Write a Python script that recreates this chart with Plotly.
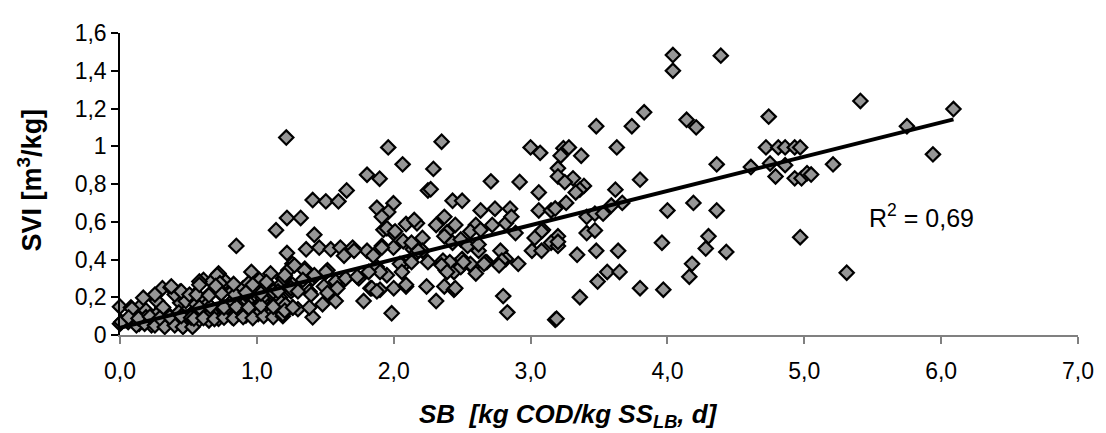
import plotly.graph_objects as go

# ---- data ----
# dense low-load cluster
sb_a = [0.00, 0.00, 0.08, 0.14, 0.19, 0.25, 0.31, 0.37, 0.44, 0.55, 0.61, 0.67, 0.72, 0.77,
        0.31, 0.44, 0.50, 0.63, 0.73, 0.82, 0.90, 0.96, 1.02, 1.10, 0.96, 0.99, 0.92, 0.82, 0.72, 1.08, 1.19, 1.26, 1.17, 1.25,
        0.06, 0.14, 0.23, 0.31, 0.39, 0.47, 0.55, 0.65, 0.72, 0.82, 0.92, 1.01, 1.11,
        0.10, 0.19, 0.27, 0.36, 0.43, 0.52, 0.60, 0.67, 0.77, 0.87, 0.93, 1.04, 1.18,
        0.17, 0.27, 0.40, 0.48, 0.58, 0.65, 0.82, 0.92, 1.04, 1.11, 1.18, 1.25,
        0.85, 1.14, 1.22, 1.22, 1.26, 0.94, 0.71, 0.73, 1.23, 1.19, 1.215]
svi_a = [0.15, 0.06, 0.146, 0.146, 0.13, 0.206, 0.248, 0.252, 0.231, 0.214, 0.292, 0.283, 0.326, 0.283,
         0.146, 0.171, 0.197, 0.171, 0.223, 0.231, 0.248, 0.334, 0.292, 0.326, 0.231, 0.137, 0.137, 0.137, 0.12, 0.154, 0.12, 0.146, 0.197, 0.231,
         0.069, 0.06, 0.051, 0.06, 0.069, 0.051, 0.06, 0.077, 0.086, 0.094, 0.103, 0.111, 0.12,
         0.103, 0.094, 0.111, 0.103, 0.12, 0.111, 0.129, 0.12, 0.137, 0.129, 0.18, 0.18, 0.171,
         0.197, 0.18, 0.214, 0.18, 0.197, 0.214, 0.18, 0.214, 0.197, 0.223, 0.257, 0.274,
         0.472, 0.555, 0.62, 0.434, 0.377, 0.274, 0.317, 0.274, 0.343, 0.30, 1.046]

sb_b = [0.01, 0.087, 0.255, 0.315, 0.375, 0.448, 0.508, 0.556, 0.58,
        0.12, 0.18, 0.255, 0.327, 0.40, 0.46, 0.53,
        0.063, 0.135, 0.219, 0.291, 0.363, 0.448, 0.52,
        0.54, 0.61, 0.69, 0.76, 0.83, 0.90, 0.97, 1.05, 1.12, 1.19,
        0.58, 0.66, 0.76, 0.85, 0.94, 1.03, 1.12, 1.21,
        0.56, 0.65, 0.74, 0.84, 0.92, 1.03, 1.12,
        0.58, 0.70, 0.83, 0.97, 1.07, 1.18]
svi_b = [0.069, 0.139, 0.214, 0.146, 0.257, 0.231, 0.214, 0.163, 0.283,
         0.051, 0.06, 0.051, 0.043, 0.051, 0.043, 0.043,
         0.093, 0.088, 0.097, 0.09, 0.095, 0.1, 0.092,
         0.087, 0.09, 0.085, 0.092, 0.088, 0.095, 0.09, 0.1, 0.095, 0.1,
         0.146, 0.15, 0.146, 0.15, 0.146, 0.155, 0.15, 0.16,
         0.214, 0.21, 0.22, 0.214, 0.225, 0.22, 0.23,
         0.266, 0.26, 0.27, 0.266, 0.28, 0.27]

# middle load range
sb_c = [1.32, 1.96, 2.35, 2.065, 2.29, 1.805, 1.897, 1.656, 1.408, 1.504, 1.596, 2.25, 2.27, 2.71, 2.92, 3.0, 3.07, 3.06, 3.24, 3.22,
        1.877, 1.998, 1.96, 1.925, 1.998, 2.43, 2.50, 2.635, 2.74, 2.85, 3.06, 3.15,
        2.09, 2.17, 2.31, 2.37, 2.39, 2.45, 2.60, 2.72, 2.82, 2.86, 2.89, 3.09, 3.2,
        1.42, 1.36, 1.456, 1.54, 1.61, 1.70,
        1.805, 1.913, 1.998, 2.07, 2.14, 2.21, 2.21,
        2.36, 2.38, 2.45, 2.50, 2.575, 2.62, 2.68, 2.78, 2.82, 2.91, 3.01, 3.08, 3.15, 3.20, 3.08, 3.03,
        1.83, 1.90, 2.0, 2.09, 2.24, 2.37, 2.44,
        1.78, 1.985, 2.31, 2.60, 2.50, 2.80, 2.83, 3.18, 2.79,
        1.745, 1.637, 1.516, 1.408, 1.576, 1.408, 1.19, 1.30,
        1.35, 1.275, 1.20, 1.25, 1.155, 1.384, 1.49, 1.516,
        1.637, 1.71, 1.85, 1.877, 1.95, 1.90, 2.07, 2.17,
        2.18, 2.25, 2.41, 2.44, 2.67, 2.77,
        1.913, 1.95, 2.01, 2.13, 1.913,
        2.37, 2.43, 2.49, 2.54, 2.62,
        2.045, 2.13, 2.35, 2.39, 2.49, 2.56, 2.66,
        2.06, 2.51, 2.09, 2.45, 2.15, 2.56, 2.635,
        1.348, 1.204, 1.336, 1.42, 1.504, 1.576, 1.649, 1.733, 1.817,
        1.30, 1.396, 1.588,
        1.204, 1.264, 1.384, 1.48, 1.84, 1.877]
svi_c = [0.62, 0.994, 1.024, 0.904, 0.88, 0.849, 0.828, 0.766, 0.715, 0.708, 0.708, 0.766, 0.772, 0.814, 0.811, 0.994, 0.965, 0.755, 0.99, 0.95,
         0.674, 0.698, 0.652, 0.557, 0.54, 0.711, 0.711, 0.66, 0.669, 0.669, 0.66, 0.66,
         0.588, 0.592, 0.583, 0.626, 0.544, 0.583, 0.583, 0.583, 0.592, 0.626, 0.54, 0.557, 0.523,
         0.531, 0.454, 0.463, 0.454, 0.463, 0.463,
         0.446, 0.472, 0.463, 0.497, 0.454, 0.514, 0.446,
         0.394, 0.343, 0.369, 0.403, 0.36, 0.446, 0.386, 0.446, 0.403, 0.377, 0.446, 0.446, 0.489, 0.472, 0.549, 0.514,
         0.248, 0.24, 0.248, 0.257, 0.257, 0.257, 0.24,
         0.18, 0.115, 0.18, 0.326, 0.369, 0.206, 0.12, 0.081, 0.394,
         0.30, 0.292, 0.343, 0.30, 0.18, 0.094, 0.111, 0.137,
         0.351, 0.369, 0.30, 0.248, 0.231, 0.231, 0.257, 0.223,
         0.42, 0.446, 0.42, 0.36, 0.317, 0.334, 0.369, 0.437,
         0.446, 0.386, 0.386, 0.334, 0.386, 0.369,
         0.626, 0.566, 0.549, 0.489, 0.463,
         0.523, 0.489, 0.506, 0.472, 0.48,
         0.377, 0.386, 0.369, 0.334, 0.36, 0.377, 0.377,
         0.334, 0.386, 0.266, 0.248, 0.609, 0.549, 0.557,
         0.343, 0.317, 0.292, 0.317, 0.334, 0.283, 0.30, 0.309, 0.334,
         0.231, 0.214, 0.248,
         0.129, 0.146, 0.146, 0.163, 0.248, 0.231]

# high load range
sb_d = [4.04, 4.04, 4.39, 3.83, 3.48, 3.74, 4.14, 4.21, 4.74, 3.28, 3.37, 3.63, 4.72, 4.81, 4.86, 4.93, 4.97,
        3.20, 3.20, 3.31, 3.25, 3.39, 3.36, 3.33, 3.80, 4.36, 4.61, 4.75, 4.86, 4.79, 4.93, 4.98, 5.02, 5.21,
        3.62, 3.67, 3.26, 3.18, 3.41, 3.47, 3.53, 3.59, 4.0, 4.19, 4.36,
        3.2, 3.41, 3.47, 3.34, 3.48, 3.64, 3.96, 4.30, 4.28, 4.43, 4.97,
        3.56, 3.65, 3.49, 4.18, 4.16, 3.80, 3.97, 3.36, 5.31, 3.19,
        5.41, 6.09, 5.75, 5.94, 5.05]
svi_d = [1.483, 1.40, 1.48, 1.18, 1.106, 1.106, 1.14, 1.10, 1.157, 0.994, 0.95, 0.994, 0.994, 0.994, 0.994, 0.994, 0.994,
         0.883, 0.84, 0.83, 0.81, 0.79, 0.77, 0.755, 0.823, 0.904, 0.89, 0.909, 0.90, 0.84, 0.83, 0.83, 0.857, 0.904,
         0.77, 0.70, 0.70, 0.67, 0.626, 0.643, 0.643, 0.686, 0.66, 0.70, 0.66,
         0.494, 0.54, 0.554, 0.425, 0.446, 0.446, 0.489, 0.523, 0.458, 0.44, 0.518,
         0.334, 0.334, 0.283, 0.377, 0.309, 0.248, 0.24, 0.20, 0.33, 0.086,
         1.24, 1.197, 1.106, 0.957, 0.85]

# linear trend line (Excel-style) and its R²
trend_coef = [0.0375, 0.1814]  # intercept, slope
r2_text = "R<sup>2</sup> = 0,69"

x_ticks = [0, 1, 2, 3, 4, 5, 6, 7]
x_ticktext = ["0,0", "1,0", "2,0", "3,0", "4,0", "5,0", "6,0", "7,0"]
y_ticks = [0, 0.2, 0.4, 0.6, 0.8, 1.0, 1.2, 1.4, 1.6]
y_ticktext = ["0", "0,2", "0,4", "0,6", "0,8", "1", "1,2", "1,4", "1,6"]

sb = sb_a + sb_b + sb_c + sb_d
svi = svi_a + svi_b + svi_c + svi_d

FONT = "Liberation Sans, Arial, sans-serif"

fig = go.Figure()
fig.add_trace(go.Scatter(
    x=sb, y=svi, mode="markers", cliponaxis=False,
    marker=dict(symbol="diamond", size=11, color="#969696",
                line=dict(color="black", width=2.2)),
    showlegend=False, hoverinfo="skip"))

x_line = [min(sb), max(sb)]
y_line = [trend_coef[0] + trend_coef[1] * v for v in x_line]
fig.add_trace(go.Scatter(x=x_line, y=y_line, mode="lines", cliponaxis=False,
                         line=dict(color="black", width=4), showlegend=False,
                         hoverinfo="skip"))

fig.add_annotation(x=5.86, y=0.628, xref="x", yref="y", text=r2_text,
                   showarrow=False, font=dict(family=FONT, size=25, color="black"))
fig.add_annotation(x=0.468, y=-0.267, xref="paper", yref="paper",
                   text="<b><i>SB&nbsp;&nbsp;[kg COD/kg SS<sub>LB</sub>, d]</i></b>",
                   showarrow=False, xanchor="center", yanchor="middle",
                   font=dict(family=FONT, size=26, color="black"))
fig.add_annotation(x=-0.0943, y=0.514, xref="paper", yref="paper",
                   text="<b>SVI [m<sup>3</sup>/kg]</b>", textangle=-90,
                   showarrow=False, xanchor="center", yanchor="middle",
                   font=dict(family=FONT, size=27, color="black"))

fig.update_layout(
    width=1098, height=425,
    margin=dict(l=112, r=16, t=16, b=98),
    paper_bgcolor="white", plot_bgcolor="white",
    font=dict(family=FONT, color="black"),
    xaxis=dict(range=[0, 7], tickvals=x_ticks, ticktext=x_ticktext,
               showgrid=False, zeroline=False, showline=True,
               linecolor="#808080", linewidth=1.5, ticks="outside",
               ticklen=7, tickcolor="#808080", tickwidth=1.5,
               ticklabelstandoff=8,
               tickfont=dict(family=FONT, size=23, color="black")),
    yaxis=dict(range=[0, 1.6], tickvals=y_ticks, ticktext=y_ticktext,
               showgrid=False, zeroline=False, showline=True,
               linecolor="black", linewidth=1.5, ticks="outside",
               ticklen=7, tickcolor="black", tickwidth=1.5,
               tickfont=dict(family=FONT, size=23, color="black")),
)

fig.write_html("out.html")
